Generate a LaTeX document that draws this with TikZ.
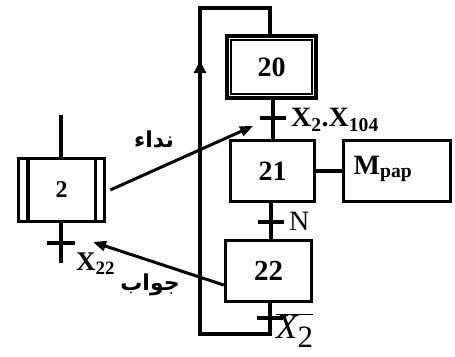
\documentclass[tikz,border=0pt]{standalone}
\usepackage{fontspec}
\setmainfont{Liberation Serif}
\newfontfamily\arabicfont[Script=Arabic]{DejaVu Sans}
\TeXXeTstate=1
\usetikzlibrary{arrows.meta}
\tikzset{
  stepbox/.style 2 args={draw, line width=3.5pt, inner sep=0pt, minimum width=#1, minimum height=#2, font=\bfseries\fontsize{28}{28}\selectfont},
  wire/.style={line width=3.5pt},
  tick/.style={line width=3.5pt},
  msg/.style={line width=3pt, -{Triangle[length=13pt,width=10pt]}},
  lbl/.style={inner sep=0pt, font=\bfseries\fontsize{28}{28}\selectfont},
  arlbl/.style={inner sep=0pt, font=\arabicfont\bfseries\fontsize{22}{22}\selectfont}
}
\begin{document}
\begin{tikzpicture}[x=1pt,y=-1pt]
\useasboundingbox[fill=white] (0,0) rectangle (455,356);
% steps
\node[stepbox={89pt}{62pt}] (s20) at (271.5,67) {20};
\draw[line width=2pt] ([shift={(5.5,5.5)}]s20.north west) rectangle ([shift={(-5.5,-5.5)}]s20.south east);
\node[stepbox={84pt}{61pt}] (s21) at (272.5,171) {21};
\node[stepbox={86pt}{61pt}, font=\bfseries\fontsize{29}{29}\selectfont] (s22) at (268.5,271) {22};
\node[stepbox={107pt}{61pt}] (m) at (397,171) {};
\node[lbl] (mt) at (383,169) {M\textsubscript{pap}};
\node[stepbox={86pt}{63pt}, font=\bfseries\fontsize{24}{24}\selectfont] (s2) at (61.5,190) {2};
\draw[line width=3.5pt] ([xshift=11pt]s2.north west) -- ([xshift=11pt]s2.south west);
\draw[line width=3.5pt] ([xshift=-11pt]s2.north east) -- ([xshift=-11pt]s2.south east);
% coordinates
\coordinate (t1) at (273,118);
\coordinate (t2) at (271,222);
\coordinate (t3) at (270,318);
\coordinate (lb) at (270,334);
\coordinate (lbl) at (200,334);
\coordinate (ltl) at (200,8);
\coordinate (ltr) at (270,8);
\coordinate (a2) at (61,115);
\coordinate (b2) at (61,263);
\coordinate (t0) at (61,243);
% chain
\draw[wire] (s20.south -| t1) -- (s21.north -| t1);
\draw[wire] (s21.south -| t2) -- (s22.north -| t2);
\draw[wire, line join=miter] (s22.south -| lb) -- (lb) -- (lbl) -- (ltl) -- (ltr) -- (s20.north -| ltr);
\draw[line width=3.5pt, -{Triangle[length=12pt,width=12pt]}] (200,90) -- (200,61);
\draw[wire] (s21.east) -- (m.west);
% ticks
\draw[tick] ([xshift=-13pt]t1) -- ([xshift=13pt]t1);
\draw[tick] ([xshift=-13pt]t2) -- ([xshift=13pt]t2);
\draw[tick] ([xshift=-13pt]t3) -- ([xshift=13pt]t3);
\draw[tick] ([xshift=-14pt]t0) -- ([xshift=14pt]t0);
% step 2 links
\draw[wire] (a2) -- (s2.north -| a2);
\draw[wire] (s2.south -| b2) -- (b2);
% labels
\node[lbl, anchor=west] (lx) at (291,120) {X\textsubscript{2}.X\textsubscript{104}};
\node[inner sep=0pt, anchor=west, font=\fontsize{28}{28}\selectfont] (ln) at (289,221) {N};
\node[inner sep=0pt, anchor=west, font=\fontsize{35}{35}\selectfont] (lxb) at (276,331) {$\overline{\mbox{\itshape X\raisebox{-9pt}{\upshape\fontsize{31}{31}\selectfont 2}}}$};
\node[lbl, anchor=west, font=\bfseries\fontsize{27}{27}\selectfont] (l22) at (76,264) {X\textsubscript{22}};
\node[arlbl] (call) at (154,139) {\beginR نداء\endR};
\node[arlbl] (resp) at (150,285) {\beginR جواب\endR};
% messages
\draw[msg] ([xshift=4pt]s2.east) -- (253,126);
\draw[msg] (s22.west |- 0,285) -- (93,242);
\end{tikzpicture}
\end{document}
